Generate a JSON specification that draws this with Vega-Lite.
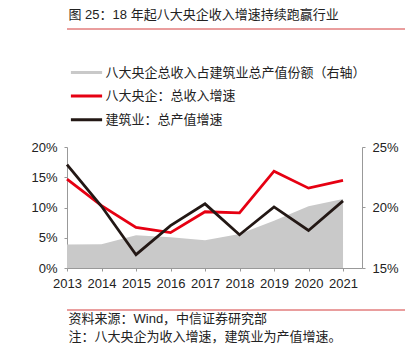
{
  "$schema": "https://vega.github.io/schema/vega-lite/v6.json",
  "padding": {"left": 18, "top": 8, "right": 0, "bottom": 0},
  "spacing": 19,
  "config": {
    "view": {"stroke": null},
    "font": "Liberation Sans, Noto Sans CJK SC, sans-serif",
    "axis": {"domainColor": "#999999", "tickColor": "#999999", "tickSize": 3, "labelFontSize": 13, "labelColor": "#222222", "grid": false, "title": null, "labelPadding": 7, "labelOverlap": false, "tickCount": 30, "labelFont": "Liberation Sans, Noto Sans CJK SC, sans-serif"}
  },
  "vconcat": [
    {
      "width": 382,
      "height": 93,
      "title": {"text": "图 25：18 年起八大央企收入增速持续跑赢行业", "anchor": "start", "fontSize": 13, "fontWeight": "normal", "color": "#222222", "offset": 7, "dx": 2, "font": "Liberation Sans, Noto Sans CJK SC, sans-serif"},
      "data": {"values": [{"s": 0, "e": 1}]},
      "mark": {"type": "rule", "color": "#d43c3c", "strokeWidth": 1},
      "encoding": {
        "x": {"field": "s", "type": "quantitative", "scale": {"domain": [0, 1]}, "axis": null},
        "x2": {"field": "e"},
        "y": {"datum": 1, "type": "quantitative", "scale": {"domain": [0, 1]}, "axis": null}
      }
    },
    {
      "width": 295,
      "height": 121,
      "data": {"values": [
        {"year": 2013, "share": 0.1695, "soe": 0.147, "ind": 0.171},
        {"year": 2014, "share": 0.1696, "soe": 0.103, "ind": 0.102},
        {"year": 2015, "share": 0.177, "soe": 0.067, "ind": 0.022},
        {"year": 2016, "share": 0.1755, "soe": 0.0585, "ind": 0.070},
        {"year": 2017, "share": 0.173, "soe": 0.093, "ind": 0.106},
        {"year": 2018, "share": 0.178, "soe": 0.091, "ind": 0.055},
        {"year": 2019, "share": 0.189, "soe": 0.160, "ind": 0.101},
        {"year": 2020, "share": 0.201, "soe": 0.132, "ind": 0.062},
        {"year": 2021, "share": 0.207, "soe": 0.145, "ind": 0.111}
      ]},
      "layer": [
        {
          "mark": {"type": "area", "opacity": 1},
          "encoding": {
            "x": {"field": "year", "type": "quantitative", "scale": {"domain": [2013, 2021.55], "nice": false, "zero": false}, "axis": {"values": [2013, 2014, 2015, 2016, 2017, 2018, 2019, 2020, 2021], "tickCount": 30, "format": "d", "labelPadding": 6, "labelFlush": false, "labelOverlap": false}},
            "y": {"field": "share", "type": "quantitative", "scale": {"domain": [0.15, 0.25], "nice": false, "zero": false}, "axis": {"orient": "right", "values": [0.15, 0.2, 0.25], "tickCount": 30, "format": ".0%"}},
            "y2": {"datum": 0.15},
            "color": {
              "datum": "八大央企总收入占建筑业总产值份额（右轴）",
              "scale": {"domain": ["八大央企总收入占建筑业总产值份额（右轴）", "八大央企：总收入增速", "建筑业：总产值增速"], "range": ["#c9c9c9", "#e60012", "#231815"]},
              "legend": {
                "orient": "none", "legendX": 12, "legendY": 36, "direction": "vertical",
                "title": null, "padding": 0, "symbolType": "M-2.6,0H2.6", "symbolSize": 144, "symbolStrokeWidth": 3,
                "labelFontSize": 13, "labelColor": "#222222", "labelOffset": 11.4, "rowPadding": 8.6, "labelLimit": 400,
                "labelFont": "Liberation Sans, Noto Sans CJK SC, sans-serif",
                "encode": {"symbols": {"update": {"strokeWidth": {"signal": "datum.index === 0 ? 6 : 3"}, "stroke": {"scale": "color", "field": "value"}, "fill": {"value": "transparent"}}}}
              }
            }
          }
        },
        {
          "layer": [
            {
              "mark": {"type": "line", "strokeWidth": 2.8},
              "encoding": {
                "x": {"field": "year", "type": "quantitative"},
                "y": {"field": "soe", "type": "quantitative", "scale": {"domain": [0, 0.2], "nice": false}, "axis": {"orient": "left", "values": [0, 0.05, 0.1, 0.15, 0.2], "tickCount": 30, "format": ".0%", "minExtent": 49, "labelOverlap": false}},
                "color": {"datum": "八大央企：总收入增速"}
              }
            },
            {
              "mark": {"type": "line", "strokeWidth": 2.8},
              "encoding": {
                "x": {"field": "year", "type": "quantitative"},
                "y": {"field": "ind", "type": "quantitative"},
                "color": {"datum": "建筑业：总产值增速"}
              }
            }
          ]
        }
      ],
      "resolve": {"scale": {"y": "independent"}}
    },
    {
      "width": 382,
      "height": 1,
      "title": {"text": ["资料来源：Wind，中信证券研究部", "注：八大央企为收入增速，建筑业为产值增速。"], "orient": "bottom", "anchor": "start", "fontSize": 13, "fontWeight": "normal", "lineHeight": 18, "offset": 2, "dx": 2, "color": "#222222", "font": "Liberation Sans, Noto Sans CJK SC, sans-serif"},
      "data": {"values": [{"s": 0, "e": 1}]},
      "mark": {"type": "rule", "color": "#d43c3c", "strokeWidth": 1},
      "encoding": {
        "x": {"field": "s", "type": "quantitative", "scale": {"domain": [0, 1]}, "axis": null},
        "x2": {"field": "e"},
        "y": {"datum": 1, "type": "quantitative", "scale": {"domain": [0, 1]}, "axis": null}
      }
    }
  ]
}
